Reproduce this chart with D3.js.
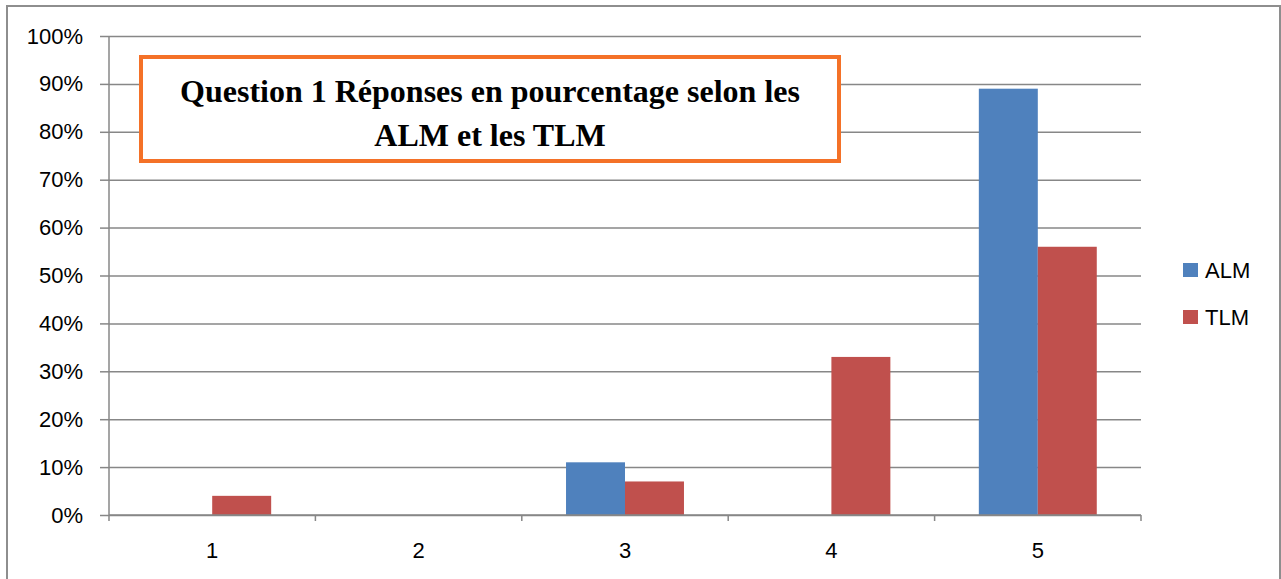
<!DOCTYPE html>
<html>
<head>
<meta charset="utf-8">
<script src="https://cdn.jsdelivr.net/npm/d3@7"></script>
<style>
  body { margin: 0; background: #fff; }
  svg { display: block; }
</style>
</head>
<body>
<svg width="1281" height="579"></svg>
<script>
// data
const categories = ["1", "2", "3", "4", "5"];
const seriesNames = ["ALM", "TLM"];
const almValues = [0, 0, 0.11, 0, 0.89];
const tlmValues = [0.04, 0, 0.07, 0.33, 0.56];
const yTicks = [0, 0.1, 0.2, 0.3, 0.4, 0.5, 0.6, 0.7, 0.8, 0.9, 1];
const titleLines = ["Question 1 Réponses en pourcentage selon les", "ALM et les TLM"];

const colors = { ALM: "#4F81BD", TLM: "#C0504D" };
const gridColor = "#878787";

const svg = d3.select("svg");

// outer chart border
svg.append("rect")
  .attr("x", 7)
  .attr("y", 6)
  .attr("width", 1273)
  .attr("height", 590)
  .attr("fill", "none")
  .attr("stroke", "#8e8e8e")
  .attr("stroke-width", 2);

var x = d3.scaleBand().domain(categories).range([109, 1141]);
var xs = d3.scaleBand().domain(seriesNames).range([0, x.bandwidth()]).paddingOuter(0.75);
var y = d3.scaleLinear().domain([0, 1]).range([515, 36]);

// gridlines
svg.append("g")
  .attr("transform", "translate(109,0)")
  .call(d3.axisLeft(y).tickValues(yTicks).tickSize(-(1141 - 109)).tickFormat(""))
  .call(g => g.select(".domain").remove())
  .selectAll("line")
  .attr("stroke", gridColor)
  .attr("stroke-width", 1.5);

// left axis
const yAxis = svg.append("g")
  .attr("transform", "translate(109,0)")
  .call(d3.axisLeft(y).tickValues(yTicks).tickSize(9).tickPadding(17).tickFormat(d3.format(".0%")));
yAxis.select(".domain").attr("stroke", gridColor).attr("stroke-width", 1.5).attr("d", "M0," + y(1) + "V" + y(0));
yAxis.selectAll("line").attr("stroke", gridColor).attr("stroke-width", 1.5);
yAxis.selectAll("text")
  .attr("font-family", "Liberation Sans, Arial, sans-serif")
  .attr("font-size", 22)
  .attr("fill", "#000");

// bars
const rows = categories.map((c, i) => ({ cat: c, ALM: almValues[i], TLM: tlmValues[i] }));
svg.append("g")
  .selectAll("g")
  .data(rows)
  .enter()
  .append("g")
  .attr("transform", d => "translate(" + x(d.cat) + ",0)")
  .selectAll("rect")
  .data(d => seriesNames.map(s => ({ key: s, value: d[s] })))
  .enter()
  .append("rect")
  .attr("x", d => xs(d.key))
  .attr("y", d => y(d.value))
  .attr("width", xs.bandwidth())
  .attr("height", d => y(0) - y(d.value))
  .attr("fill", d => colors[d.key]);

// bottom axis line and category boundary ticks
const bounds = categories.map(c => x(c)).concat([x.range()[1]]);
svg.append("line")
  .attr("x1", 109).attr("x2", 1141)
  .attr("y1", y(0)).attr("y2", y(0))
  .attr("stroke", gridColor)
  .attr("stroke-width", 1.5);
svg.append("g")
  .selectAll("line")
  .data(bounds)
  .enter()
  .append("line")
  .attr("x1", d => d).attr("x2", d => d)
  .attr("y1", y(0)).attr("y2", y(0) + 6)
  .attr("stroke", gridColor)
  .attr("stroke-width", 1.5);

// category labels
const xAxis = svg.append("g")
  .attr("transform", "translate(0," + y(0) + ")")
  .call(d3.axisBottom(x).tickSize(0).tickPadding(27));
xAxis.select(".domain").remove();
xAxis.selectAll("text")
  .attr("font-family", "Liberation Sans, Arial, sans-serif")
  .attr("font-size", 22)
  .attr("fill", "#000");

// legend
const legend = svg.append("g")
  .selectAll("g")
  .data(seriesNames)
  .enter()
  .append("g")
  .attr("transform", (d, i) => "translate(1183," + (263 + i * 47) + ")");
legend.append("rect")
  .attr("width", 15)
  .attr("height", 14)
  .attr("fill", d => colors[d]);
legend.append("text")
  .attr("x", 22)
  .attr("y", 7)
  .attr("dy", "0.36em")
  .attr("font-family", "Liberation Sans, Arial, sans-serif")
  .attr("font-size", 22)
  .text(d => d);

// title box
svg.append("rect")
  .attr("x", 141)
  .attr("y", 57)
  .attr("width", 698)
  .attr("height", 104)
  .attr("fill", "#fff")
  .attr("stroke", "#F47128")
  .attr("stroke-width", 4);

svg.append("g")
  .selectAll("text")
  .data(titleLines)
  .enter()
  .append("text")
  .attr("x", 490)
  .attr("y", (d, i) => 102 + i * 44)
  .attr("text-anchor", "middle")
  .attr("font-family", "Liberation Serif, Times New Roman, serif")
  .attr("font-weight", "bold")
  .attr("font-size", 32)
  .text(d => d);
</script>
</body>
</html>
